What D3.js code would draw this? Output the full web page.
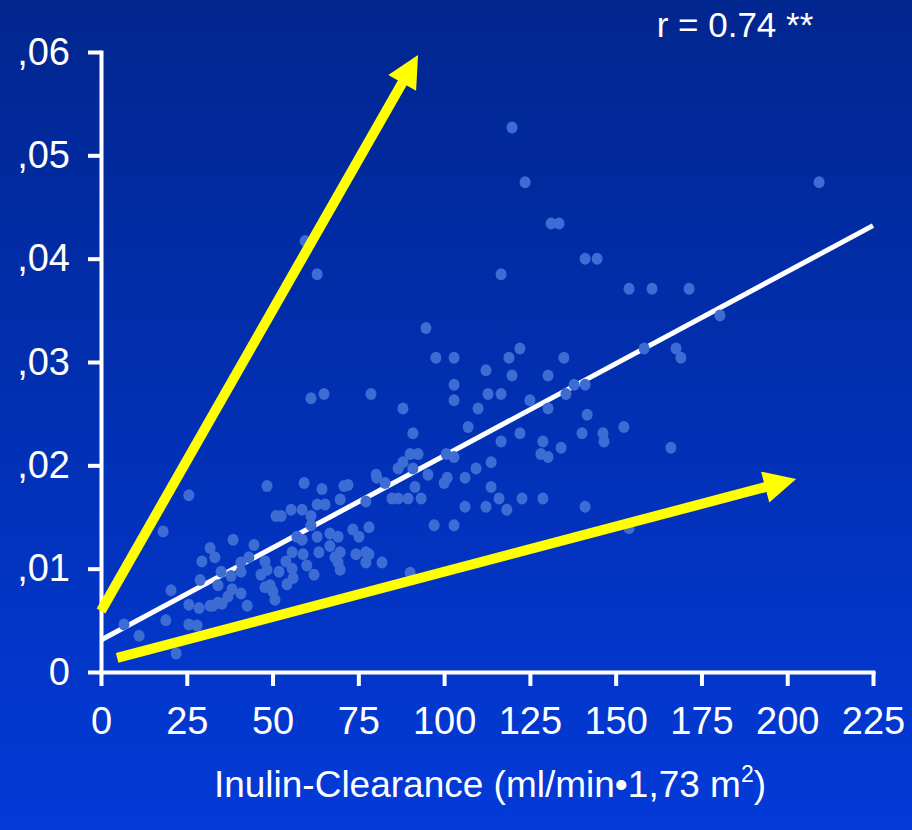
<!DOCTYPE html>
<html>
<head>
<meta charset="utf-8">
<script src="https://cdn.jsdelivr.net/npm/d3@7/dist/d3.min.js"></script>
<style>
  html, body { margin: 0; padding: 0; background: #012a8e; }
  svg { display: block; }
  text { font-family: "Liberation Sans", Arial, Helvetica, sans-serif; fill: #ffffff; }
</style>
</head>
<body>
<svg id="chart" width="912" height="830"></svg>
<script>
// Inulin clearance (ml/min per 1.73 m2) for each patient
const clearance = [
  6.7, 11.1, 18.1, 18.9, 20.4, 21.9, 25.6, 25.6, 25.6, 28.0, 28.6, 28.9, 29.4, 31.8, 33.2, 31.8, 32.6, 34.1, 34.1, 35.0,
  35.3, 37.0, 37.9, 38.2, 40.8, 38.5, 40.8, 40.8, 42.6, 43.1, 44.6, 46.6, 47.8, 48.4, 48.4, 47.8, 49.3, 50.1, 50.7, 51.0,
  52.5, 51.9, 53.9, 54.2, 55.4, 55.7, 55.7, 56.0, 57.1, 58.6, 58.6, 58.9, 60.0, 59.2, 62.1, 59.5, 63.0, 61.2, 65.0,
  61.2, 61.2, 63.0, 65.3, 63.0, 63.5, 64.4, 66.7, 69.1, 66.7, 68.2, 69.1, 69.7, 69.7, 69.7, 70.8, 72.0, 73.4, 74.3, 75.2,
  77.2, 78.1, 77.2, 77.2, 78.1, 78.7, 80.2, 80.4, 81.9, 82.8, 84.8, 86.6, 89.5, 93.3, 86.6, 88.0, 88.0, 90.1, 92.4, 90.1,
  90.9, 90.9, 91.5, 94.7, 95.3, 97.1, 102.9, 97.6, 102.9, 100.0, 100.9, 100.6, 102.9, 102.9, 102.9, 106.1, 106.1, 112.2,
  107.0, 109.3, 109.9, 112.2, 112.8, 113.7, 113.7, 116.0,
  118.3, 116.6, 116.6, 116.6, 118.9, 119.8, 119.8, 122.1, 122.1, 122.7, 123.6, 125.0, 128.2, 130.3, 128.8, 128.8, 130.3,
  130.3, 131.2, 133.5, 134.1, 134.9, 135.5, 137.9, 141.1, 140.2, 141.1, 144.6, 141.1, 141.7, 146.3, 146.6, 152.4, 153.9,
  160.6, 171.4, 153.9, 158.3, 166.1, 167.6, 169.0, 180.4, 209.3
];

// Measured marker value for the same patients
const marker = [
  0.0046, 0.0035, 0.0136, 0.0050, 0.0079, 0.0018, 0.0171, 0.0065, 0.0046, 0.0045, 0.0062, 0.0089, 0.0107, 0.0120, 0.0111,
  0.0064, 0.0064, 0.0067, 0.0084, 0.0097, 0.0066, 0.0073, 0.0093, 0.0080, 0.0076, 0.0128, 0.0106, 0.0097, 0.0064, 0.0111,
  0.0123, 0.0094, 0.0107, 0.0099, 0.0180, 0.0082, 0.0084, 0.0078, 0.0070, 0.0151, 0.0151, 0.0097, 0.0107, 0.0085, 0.0157,
  0.0116, 0.0100, 0.0091, 0.0131, 0.0128, 0.0157, 0.0114, 0.0103, 0.0183, 0.0094, 0.0417, 0.0385, 0.0265, 0.0269,
  0.0151, 0.0142, 0.0162, 0.0162, 0.0131, 0.0116, 0.0177, 0.0134, 0.0131, 0.0122, 0.0111, 0.0106, 0.0099, 0.0116, 0.0167,
  0.0180, 0.0181, 0.0138, 0.0114, 0.0131, 0.0116, 0.0114, 0.0106, 0.0165, 0.0140, 0.0269, 0.0191, 0.0188, 0.0106, 0.0183,
  0.0168, 0.0168, 0.0168, 0.0168, 0.0197, 0.0203, 0.0255, 0.0211, 0.0211, 0.0096, 0.0231, 0.0197, 0.0179, 0.0333, 0.0191,
  0.0142, 0.0142, 0.0304, 0.0304, 0.0183, 0.0188, 0.0211, 0.0208, 0.0278, 0.0263, 0.0188, 0.0160, 0.0160, 0.0237, 0.0197,
  0.0255, 0.0292, 0.0269, 0.0203, 0.0179, 0.0168,
  0.0157, 0.0269, 0.0223, 0.0385, 0.0304, 0.0527, 0.0287, 0.0313, 0.0231, 0.0168, 0.0474, 0.0263, 0.0211, 0.0208, 0.0223,
  0.0168, 0.0287, 0.0255, 0.0434, 0.0434, 0.0217, 0.0304, 0.0269, 0.0278, 0.0278, 0.0231, 0.0400, 0.0400, 0.0160, 0.0249,
  0.0231, 0.0223, 0.0237, 0.0371, 0.0371, 0.0371, 0.0139, 0.0313, 0.0217, 0.0313, 0.0304, 0.0345, 0.0474
];

// Axis ticks and their labels
const xTicks = [0, 25, 50, 75, 100, 125, 150, 175, 200, 225];
const xTickLabels = ["0", "25", "50", "75", "100", "125", "150", "175", "200", "225"];
const yTicks = [0, 0.01, 0.02, 0.03, 0.04, 0.05, 0.06];
const yTickLabels = ["0", ",01", ",02", ",03", ",04", ",05", ",06"];

// Regression line end points [clearance, marker]
const regression = [[0, 0.0031], [225, 0.0432]];

// Yellow arrows: start and tip [clearance, marker]
const arrowUpper = [[0, 0.0059], [92.4, 0.0597]];
const arrowLower = [[4.7, 0.00136], [202.6, 0.01868]];

const correlationLabel = "r = 0.74 **";
const xTitle = "Inulin-Clearance (ml/min\u20221,73 m";

const W = 912, H = 830;
const svg = d3.select("#chart");

// Background gradient, darker navy at the top
const defs = svg.append("defs");
const grad = defs.append("linearGradient")
  .attr("id", "bg").attr("x1", 0).attr("y1", 0).attr("x2", 0).attr("y2", 1);
grad.append("stop").attr("offset", "0%").attr("stop-color", "#01268f");
grad.append("stop").attr("offset", "100%").attr("stop-color", "#033ad8");
svg.append("rect").attr("width", W).attr("height", H).attr("fill", "url(#bg)");

const x = d3.scaleLinear().domain([0, 225]).range([101, 873]);
const y = d3.scaleLinear().domain([0, 0.06]).range([672, 52]);

// Axes
const xAxis = d3.axisBottom(x)
  .tickValues(xTicks)
  .tickSize(14).tickSizeOuter(0).tickPadding(21)
  .tickFormat((d, i) => xTickLabels[i]);
const yAxis = d3.axisLeft(y)
  .tickValues(yTicks)
  .tickSize(13).tickSizeOuter(0).tickPadding(18)
  .tickFormat((d, i) => yTickLabels[i]);

const gx = svg.append("g").attr("transform", `translate(0,${y(0)})`).call(xAxis);
const gy = svg.append("g").attr("transform", `translate(${x(0)},0)`).call(yAxis);
[gx, gy].forEach(g => {
  g.select(".domain").attr("stroke", "#ffffff").attr("stroke-width", 4).attr("stroke-linecap", "square");
  g.selectAll(".tick line").attr("stroke", "#ffffff").attr("stroke-width", 4);
  g.selectAll(".tick text")
    .attr("fill", "#ffffff")
    .style("font-family", '"Liberation Sans", Arial, sans-serif')
    .style("font-size", "38px");
});

// Regression line
svg.append("line")
  .attr("x1", x(regression[0][0])).attr("y1", y(regression[0][1]))
  .attr("x2", x(regression[1][0])).attr("y2", y(regression[1][1]))
  .attr("stroke", "#ffffff").attr("stroke-width", 5);

// Patients
const points = clearance.map((c, i) => ({ c, m: marker[i] }));
svg.append("g").selectAll("ellipse")
  .data(points)
  .join("ellipse")
  .attr("cx", d => x(d.c))
  .attr("cy", d => y(d.m))
  .attr("rx", 5.5)
  .attr("ry", 6)
  .attr("fill", "#3d6cd4");

// Arrows
function drawArrow(pts) {
  const p0 = [x(pts[0][0]), y(pts[0][1])];
  const p1 = [x(pts[1][0]), y(pts[1][1])];
  const dx = p1[0] - p0[0], dy = p1[1] - p0[1];
  const len = Math.hypot(dx, dy);
  const ux = dx / len, uy = dy / len;
  const nx = -uy, ny = ux;
  const headLen = 32, headHalf = 16;
  const bx = p1[0] - ux * headLen, by = p1[1] - uy * headLen;
  const g = svg.append("g");
  g.append("line")
    .attr("x1", p0[0]).attr("y1", p0[1])
    .attr("x2", bx + ux * 2).attr("y2", by + uy * 2)
    .attr("stroke", "#ffff00").attr("stroke-width", 10);
  g.append("path")
    .attr("d", d3.line()([
      p1,
      [bx + nx * headHalf, by + ny * headHalf],
      [bx - nx * headHalf, by - ny * headHalf]
    ]) + "Z")
    .attr("fill", "#ffff00");
}
drawArrow(arrowUpper);
drawArrow(arrowLower);

// Correlation coefficient
svg.append("text")
  .attr("x", 735).attr("y", 37)
  .attr("text-anchor", "middle")
  .style("font-size", "35px")
  .text(correlationLabel);

// X axis title
const title = svg.append("text")
  .attr("x", 490).attr("y", 797)
  .attr("text-anchor", "middle")
  .style("font-size", "37px");
title.append("tspan").text(xTitle);
title.append("tspan").attr("dy", -15).style("font-size", "23px").text("2");
title.append("tspan").attr("dy", 15).text(")");
</script>
</body>
</html>
